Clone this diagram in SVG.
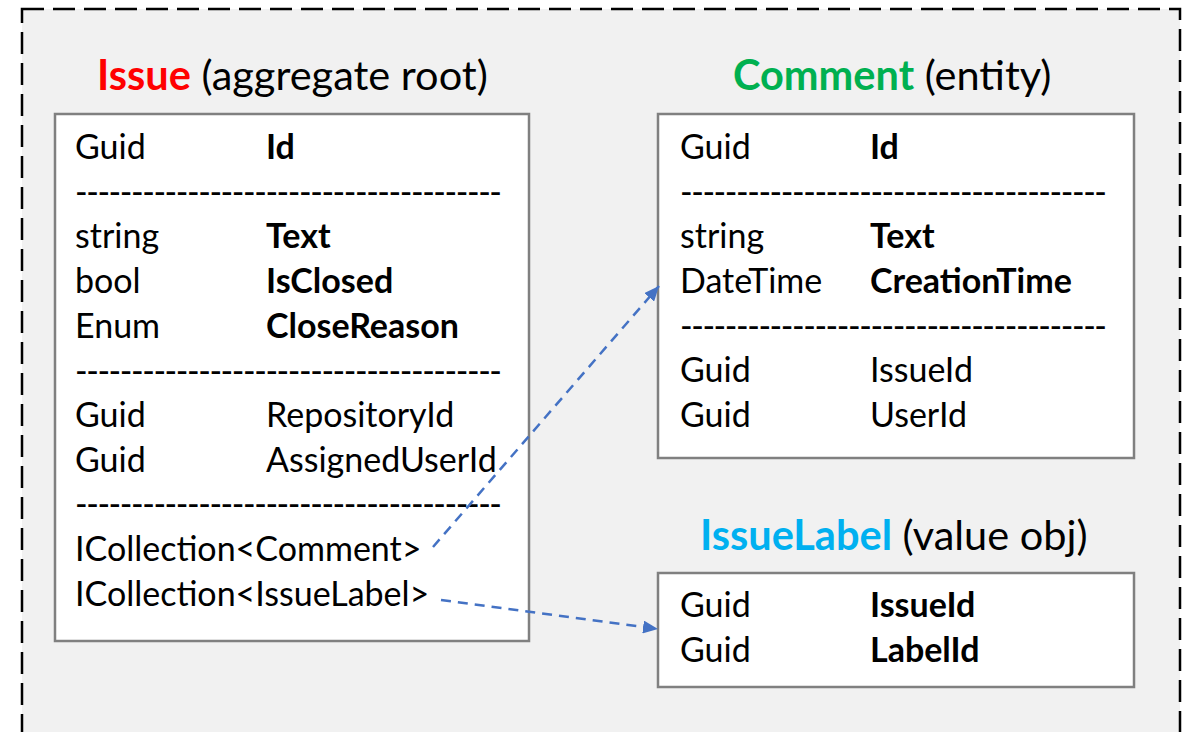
<svg xmlns="http://www.w3.org/2000/svg" width="1187" height="732" viewBox="0 0 1187 732">
  <defs>
    <style>
      text { font-family: Lato, "Open Sans", sans-serif; fill: #000; }
      .row { font-size: 34px; }
      .b { font-weight: bold; }
      .title { font-size: 41.5px; }
      .box { fill: #ffffff; stroke: #808080; stroke-width: 2.5; }
      .link { fill: none; stroke: #4472C4; stroke-width: 2.5; stroke-dasharray: 10 7; }
    </style>
    <marker id="arrow" markerWidth="15" markerHeight="13" refX="15" refY="6.5" orient="auto" markerUnits="userSpaceOnUse" viewBox="0 0 15 13">
      <path d="M0,0 L15,6.5 L0,13 z" fill="#4472C4"/>
    </marker>
  </defs>

  <!-- frame -->
  <rect x="0" y="0" width="1187" height="732" fill="#ffffff"/>
  <rect x="22" y="9" width="1158" height="740" fill="#f1f1f1" stroke="#000" stroke-width="2.5" stroke-dasharray="22 9"/>

  <!-- Issue aggregate root -->
  <g id="issue">
    <text class="title" x="97" y="90"><tspan class="b" fill="#ff0000">Issue</tspan> (aggregate root)</text>
    <rect class="box" x="55" y="114" width="474" height="527"/>
    <g class="row">
      <text x="75" y="159">Guid</text><text class="b" x="266" y="159">Id</text>
      <text x="75" y="204" textLength="427" lengthAdjust="spacing">--------------------------------------</text>
      <text x="75" y="248">string</text><text class="b" x="266" y="248">Text</text>
      <text x="75" y="293">bool</text><text class="b" x="266" y="293">IsClosed</text>
      <text x="75" y="338">Enum</text><text class="b" x="266" y="338">CloseReason</text>
      <text x="75" y="383" textLength="427" lengthAdjust="spacing">--------------------------------------</text>
      <text x="75" y="427">Guid</text><text x="266" y="427">RepositoryId</text>
      <text x="75" y="472">Guid</text><text x="266" y="472">AssignedUserId</text>
      <text x="75" y="516" textLength="427" lengthAdjust="spacing">--------------------------------------</text>
      <text x="75" y="561">ICollection&lt;Comment&gt;</text>
      <text x="75" y="606">ICollection&lt;IssueLabel&gt;</text>
    </g>
  </g>

  <!-- Comment entity -->
  <g id="comment">
    <text class="title" x="733" y="90"><tspan class="b" fill="#00b050">Comment</tspan> (entity)</text>
    <rect class="box" x="658" y="114" width="476" height="344"/>
    <g class="row">
      <text x="680" y="159">Guid</text><text class="b" x="870" y="159">Id</text>
      <text x="680" y="204" textLength="427" lengthAdjust="spacing">--------------------------------------</text>
      <text x="680" y="248">string</text><text class="b" x="870" y="248">Text</text>
      <text x="680" y="293">DateTime</text><text class="b" x="870" y="293">CreationTime</text>
      <text x="680" y="338" textLength="427" lengthAdjust="spacing">--------------------------------------</text>
      <text x="680" y="382">Guid</text><text x="870" y="382">IssueId</text>
      <text x="680" y="427">Guid</text><text x="870" y="427">UserId</text>
    </g>
  </g>

  <!-- IssueLabel value object -->
  <g id="issuelabel">
    <text class="title" x="700" y="550"><tspan class="b" fill="#00b0f0">IssueLabel</tspan> (value obj)</text>
    <rect class="box" x="658" y="573" width="476" height="114"/>
    <g class="row">
      <text x="680" y="617">Guid</text><text class="b" x="870" y="617">IssueId</text>
      <text x="680" y="662">Guid</text><text class="b" x="870" y="662">LabelId</text>
    </g>
  </g>

  <!-- connectors -->
  <g id="connectors">
    <line class="link" x1="433" y1="547" x2="659" y2="286" marker-end="url(#arrow)"/>
    <line class="link" x1="441" y1="600" x2="658" y2="629" marker-end="url(#arrow)"/>
  </g>
</svg>
